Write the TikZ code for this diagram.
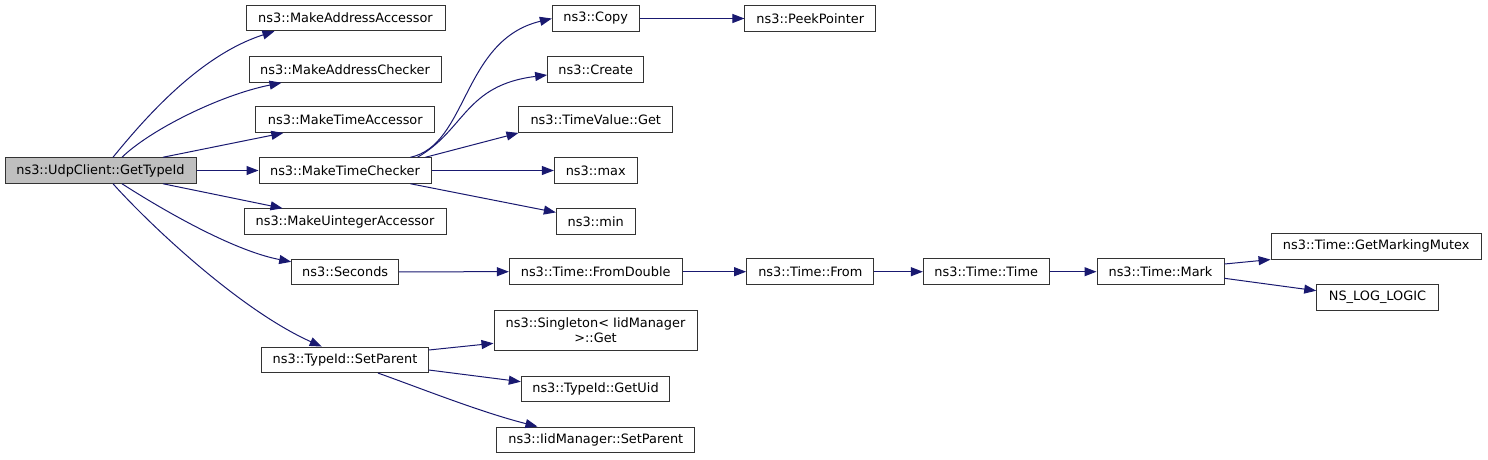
\documentclass[tikz,border=0pt]{standalone}
\usepackage{fontspec}
\setmainfont{DejaVu Sans}
\usetikzlibrary{arrows.meta}
\definecolor{edgeblue}{HTML}{191970}
\definecolor{boxborder}{HTML}{333333}
\definecolor{curgray}{HTML}{BFBFBF}
\newcommand{\fnfont}{\fontsize{12.9pt}{15pt}\selectfont}
\tikzset{
  fn/.style={draw=boxborder, line width=1pt, fill=white, inner sep=0pt, font=\fnfont, align=center, minimum height=25.5pt},
  cur/.style={fn, fill=curgray},
  call/.style={draw=edgeblue, line width=1pt, -{Triangle[length=12pt,width=9pt]}}
}
\begin{document}
\begin{tikzpicture}[x=1pt,y=-1pt]
\useasboundingbox (0,0) rectangle (1488,459);
% nodes
\node[cur, minimum width=191pt] (gt) at (100.5,170.5) {ns3::UdpClient::GetTypeId};
\node[fn, minimum width=199pt] (maa) at (345.5,18) {ns3::MakeAddressAccessor};
\node[fn, minimum width=192pt] (mac) at (345,69.5) {ns3::MakeAddressChecker};
\node[fn, minimum width=179pt] (mta) at (345.3,119.7) {ns3::MakeTimeAccessor};
\node[fn, minimum width=172pt] (mtc) at (345,170.5) {ns3::MakeTimeChecker};
\node[fn, minimum width=202pt] (mua) at (345,221.5) {ns3::MakeUintegerAccessor};
\node[fn, minimum width=107pt] (sec) at (345.2,271.8) {ns3::Seconds};
\node[fn, minimum width=166.6pt] (tsp) at (345,359.8) {ns3::TypeId::SetParent};
\node[fn, minimum width=86.7pt] (copy) at (595.7,18.5) {ns3::Copy};
\node[fn, minimum width=130.7pt] (peek) at (810.3,18.5) {ns3::PeekPointer};
\node[fn, minimum width=96.3pt] (create) at (595.8,69.3) {ns3::Create};
\node[fn, minimum width=153.7pt] (tvg) at (595.8,119.7) {ns3::TimeValue::Get};
\node[fn, minimum width=82.7pt] (max) at (595.7,170.5) {ns3::max};
\node[fn, minimum width=78.7pt] (min) at (595.7,221.4) {ns3::min};
\node[fn, minimum width=172.7pt] (fd) at (595.7,271.7) {ns3::Time::FromDouble};
\node[fn, minimum width=127.3pt] (from) at (810.3,271.7) {ns3::Time::From};
\node[fn, minimum width=203pt, minimum height=40pt] (sing) at (595.5,330.3) {ns3::Singleton< IidManager\\ >::Get};
\node[fn, minimum width=148.4pt] (uid) at (595.5,389.2) {ns3::TypeId::GetUid};
\node[fn, minimum width=197.7pt] (iid) at (595.8,439.8) {ns3::IidManager::SetParent};
\node[fn, minimum width=125.7pt] (time) at (986.2,271.7) {ns3::Time::Time};
\node[fn, minimum width=127pt] (mark) at (1160.5,271.7) {ns3::Time::Mark};
\node[fn, minimum width=210.3pt] (gmm) at (1376.2,246.3) {ns3::Time::GetMarkingMutex};
\node[fn, minimum width=121.6pt] (nll) at (1377.5,297.7) {NS\_LOG\_LOGIC};
% edges from GetTypeId
\draw[call] ([xshift=12.5pt]gt.north) .. controls (145,118) and (200,55) .. ([xshift=29pt]maa.south west);
\draw[call] ([xshift=21.5pt]gt.north) .. controls (150,130) and (220,95) .. ([xshift=33pt]mac.south west);
\draw[call] ([xshift=62.5pt]gt.north) -- ([xshift=28pt]mta.south west);
\draw[call] (gt.east) -- (mtc.west);
\draw[call] ([xshift=62.5pt]gt.south) -- ([xshift=39pt]mua.north west);
\draw[call] ([xshift=21.5pt]gt.south) .. controls (155,205) and (230,250) .. ([yshift=10pt]sec.west);
\draw[call] ([xshift=12.5pt]gt.south) .. controls (150,225) and (240,310) .. ([xshift=-23.3pt]tsp.north);
% edges from MakeTimeChecker
\draw[call] ([xshift=-21pt]mtc.north east) .. controls (468,145) and (462,40) .. (copy.west);
\draw[call] ([xshift=-14pt]mtc.north east) .. controls (465,130) and (465,85) .. ([yshift=-5.7pt]create.west);
\draw[call] ([xshift=-6pt]mtc.north east) -- (tvg.south west);
\draw[call] (mtc.east) -- (max.west);
\draw[call] ([xshift=-21pt]mtc.south east) -- ([yshift=9pt]min.west);
\draw[call] (copy.east) -- (peek.west);
% chain from Seconds
\draw[call] (sec.east) -- (fd.west);
\draw[call] (fd.east) -- (from.west);
\draw[call] (from.east) -- (time.west);
\draw[call] (time.east) -- (mark.west);
\draw[call] ([yshift=7.7pt]mark.east) -- (gmm.south west);
\draw[call] ([yshift=-6.6pt]mark.east) -- ([yshift=7pt]nll.west);
% edges from SetParent
\draw[call] ([yshift=9.8pt]tsp.east) -- ([yshift=-13pt]sing.west);
\draw[call] ([yshift=-10.2pt]tsp.east) -- ([yshift=7.5pt]uid.west);
\draw[call] ([xshift=33pt]tsp.south) .. controls (420,388) and (480,412) .. ([xshift=41pt]iid.north west);
\end{tikzpicture}
\end{document}
